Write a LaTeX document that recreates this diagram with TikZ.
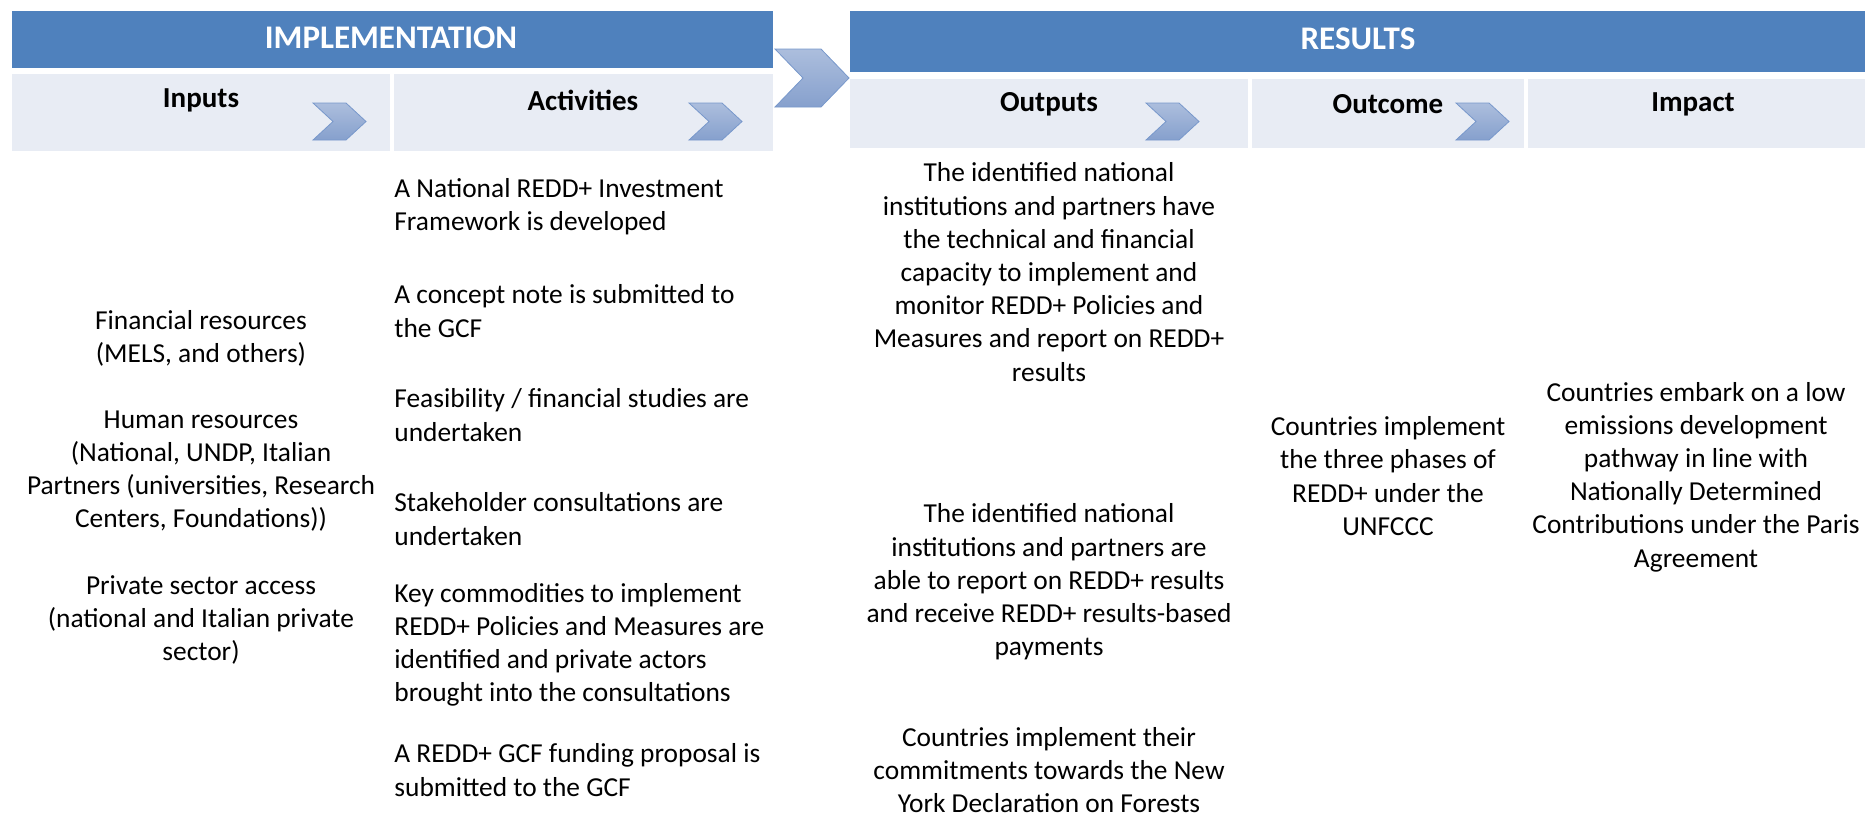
\documentclass[tikz,border=0pt]{standalone}
\usepackage{fontspec}
\setmainfont{Carlito}
\usetikzlibrary{fit}
\definecolor{hdblue}{RGB}{79,129,189}
\definecolor{subfill}{RGB}{232,236,244}
\definecolor{chevtop}{RGB}{172,190,221}
\definecolor{chevbot}{RGB}{134,160,205}
\definecolor{chevline}{RGB}{120,152,203}
\begin{document}
\begin{tikzpicture}[x=0.5pt,y=-0.5pt,
  header/.style={fill=hdblue,inner sep=0pt},
  headtext/.style={text=white,inner sep=0pt,font=\fontsize{16.5}{20}\selectfont\bfseries},
  subhead/.style={fill=subfill,inner sep=0pt},
  colhead/.style={inner sep=0pt,font=\fontsize{14.5}{17}\selectfont\bfseries},
  chev/.style={draw=chevline,line width=0.4pt,line join=miter,top color=chevtop,bottom color=chevbot},
  body/.style={inner sep=0pt,align=center,font=\fontsize{13.7}{16.6}\selectfont},
  bodyl/.style={body,anchor=west,align=left},
]
\useasboundingbox (0,0) rectangle (1868,814);
%% headers
\node (impl) [header,fit={(12,11) (773,68)}] {};
\node (res) [header,fit={(850,11) (1865,72)}] {};
\node (impl_t) at (391,38) [headtext] {IMPLEMENTATION};
\node (res_t) at (1358,39) [headtext] {RESULTS};
%
\node (inputs) [subhead,fit={(12,74) (390,151)}] {};
\node (activities) [subhead,fit={(394,74) (773,151)}] {};
\node (outputs) [subhead,fit={(850,79) (1248,148)}] {};
\node (outcome) [subhead,fit={(1252,79) (1524,148)}] {};
\node (impact) [subhead,fit={(1528,79) (1865,148)}] {};
\node (inputs_t) at (201,100) [colhead] {Inputs};
\node (activities_t) at (583,100) [colhead] {Activities};
\node (outputs_t) at (1049,104) [colhead] {Outputs};
\node (outcome_t) at (1388,104) [colhead] {Outcome};
\node (impact_t) at (1693,104) [colhead] {Impact};
%% chevrons
\path [chev] (775,49) -- (821,49) -- (849,78) -- (821,107) -- (775,107) -- (803,78) -- cycle;
\foreach \x in {313,689,1146,1456}
  \path [chev] (\x,103) -- ++(33,0) -- ++(20,18.5) -- ++(-20,18.5) -- ++(-33,0) -- ++(20,-18.5) -- cycle;
%% inputs
\node (in_1) at (201,338) [body] {Financial resources\\(MELS, and others)};
\node (in_2) at (201,471) [body] {Human resources\\(National, UNDP, Italian\\Partners (universities, Research\\Centers, Foundations))};
\node (in_3) at (201,620) [body] {Private sector access\\(national and Italian private\\sector)};
%% activities
\node (act_1) at (394,207) [bodyl] {A National REDD+ Investment\\Framework is developed};
\node (act_2) at (394,311) [bodyl] {A concept note is submitted to\\the GCF};
\node (act_3) at (394,415) [bodyl] {Feasibility / financial studies are\\undertaken};
\node (act_4) at (394,519) [bodyl] {Stakeholder consultations are\\undertaken};
\node (act_5) at (394,645) [bodyl] {Key commodities to implement\\REDD+ Policies and Measures are\\identified and private actors\\brought into the consultations};
\node (act_6) at (394,770) [bodyl] {A REDD+ GCF funding proposal is\\submitted to the GCF};
%% outputs
\node (out_1) at (1049,272) [body] {The identified national\\institutions and partners have\\the technical and financial\\capacity to implement and\\monitor REDD+ Policies and\\Measures and report on REDD+\\results};
\node (out_2) at (1049,582) [body] {The identified national\\institutions and partners are\\able to report on REDD+ results\\and receive REDD+ results-based\\payments};
\node (out_3) at (1049,770) [body] {Countries implement their\\commitments towards the New\\York Declaration on Forests};
%% outcome, impact
\node (oc_1) at (1388,476) [body] {Countries implement\\the three phases of\\REDD+ under the\\UNFCCC};
\node (im_1) at (1696,477) [body] {Countries embark on a low\\emissions development\\pathway in line with\\Nationally Determined\\Contributions under the Paris\\Agreement};
%
\end{tikzpicture}
\end{document}
